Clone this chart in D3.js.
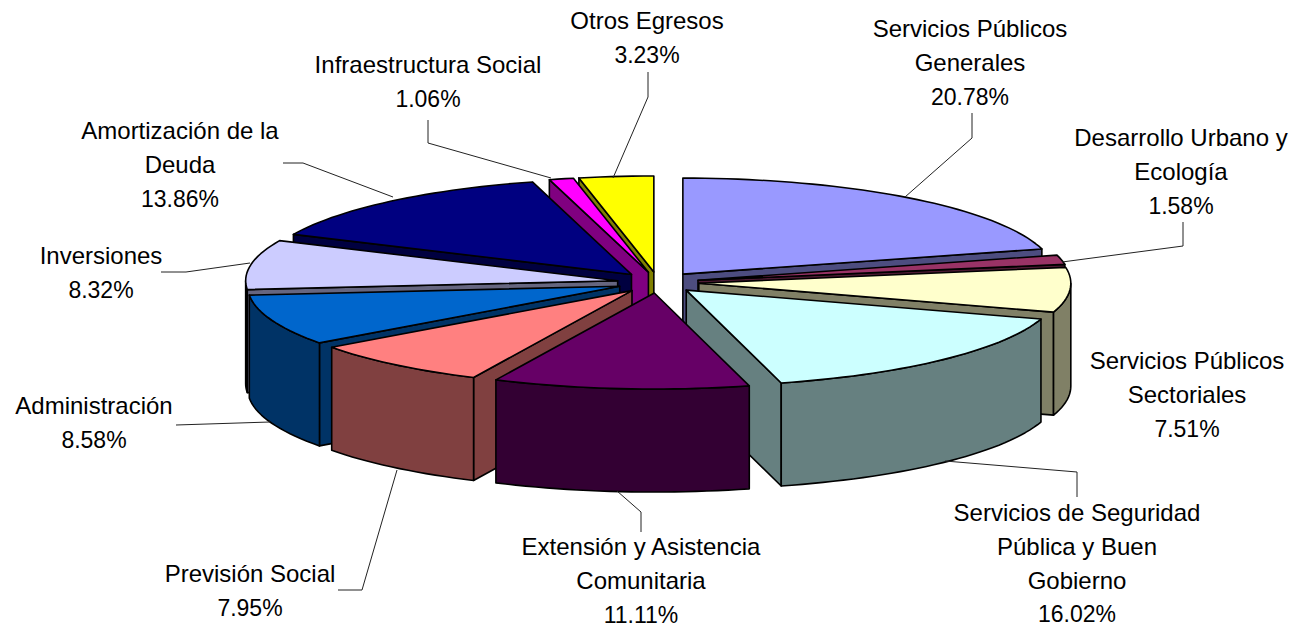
<!DOCTYPE html>
<html>
<head>
<meta charset="utf-8">
<script src="https://cdnjs.cloudflare.com/ajax/libs/d3/7.8.5/d3.min.js"></script>
<style>
body { margin: 0; background: #fff; }
text { font-family: "Liberation Sans", Arial, sans-serif; font-size: 24px; fill: #000; }
tspan.pct { font-size: 23px; }
</style>
</head>
<body>
<div id="chart"></div>
<script>
// data, clockwise from 12 o'clock
var categories = [
    ["Servicios Públicos", "Generales"],
    ["Desarrollo Urbano y", "Ecología"],
    ["Servicios Públicos", "Sectoriales"],
    ["Servicios de Seguridad", "Pública y Buen", "Gobierno"],
    ["Extensión y Asistencia", "Comunitaria"],
    ["Previsión Social"],
    ["Administración"],
    ["Inversiones"],
    ["Amortización de la", "Deuda"],
    ["Infraestructura Social"],
    ["Otros Egresos"]
];
var values = [20.78, 1.58, 7.51, 16.02, 11.11, 7.95, 8.58, 8.32, 13.86, 1.06, 3.23];
var colors = ["#9999ff", "#993366", "#ffffcc", "#ccffff", "#660066", "#ff8080",
              "#0066cc", "#ccccff", "#000080", "#ff00ff", "#ffff00"];

var width = 1298, height = 628;

// the flattened pie
var cx = 658, cy = 282.5,
    rx = 372, ry = 96,
    depth = 103,
    explode = 0.11;

// label anchor (centre x, first line y) and leader line, same order as categories
var labelPos = [
    [970, 37], [1181, 146], [1187, 369], [1077, 521], [641, 555], [250, 582],
    [94, 414], [101, 264], [180, 139], [428, 73], [647, 29]
];
var leaders = [
    [[972, 113], [972, 138], [905, 197]],
    [[1183, 222], [1183, 246], [1062, 262]],
    [],
    [[1077, 497], [1077, 472], [945, 461]],
    [[641, 532], [641, 512], [617, 491]],
    [[338, 590], [362, 590], [397, 470]],
    [[176, 425], [270, 422]],
    [[161, 272], [186, 272], [250, 263]],
    [[283, 163], [303, 163], [393, 197]],
    [[428, 120], [428, 143], [551, 178]],
    [[648, 72], [648, 97], [613, 178]]
];

var svg = d3.select("#chart")
    .append("svg")
    .attr("width", width)
    .attr("height", height);

var slices = d3.pie().sort(null).value(function(d) { return d; })(values);

slices.forEach(function(s) {
    var mid = (s.startAngle + s.endAngle) / 2;
    s.ax = cx + explode * rx * Math.sin(mid);
    s.ay = cy - explode * ry * Math.cos(mid);
    s.top = colors[s.index];
    var c = d3.rgb(s.top);
    s.side = d3.rgb(c.r / 2, c.g / 2, c.b / 2).formatHex();
});

// painter's order: back to front on each side, the front slice last
var order = [10, 9, 8, 7, 6, 0, 1, 2, 3, 5, 4];

var line = d3.line();

function rimPoint(s, a, drop) {
    return [s.ax + rx * Math.sin(a), s.ay - ry * Math.cos(a) + drop];
}

function arcPoints(s, a0, a1, drop) {
    var n = Math.max(2, Math.ceil((a1 - a0) / 0.03));
    return d3.range(n + 1).map(function(i) {
        return rimPoint(s, a0 + (a1 - a0) * i / n, drop);
    });
}

function drawFace(g, pts, fill) {
    g.append("path")
        .attr("d", line(pts) + "Z")
        .attr("fill", fill)
        .attr("stroke", "#000")
        .attr("stroke-width", 1.6)
        .attr("stroke-linejoin", "round");
}

function wall(s, a) {
    var p = rimPoint(s, a, 0), q = rimPoint(s, a, depth);
    return [[s.ax, s.ay], p, q, [s.ax, s.ay + depth]];
}

order.forEach(function(i) {
    var s = slices[i];
    var g = svg.append("g").attr("class", "slice");
    var a0 = s.startAngle, a1 = s.endAngle;

    // radial walls that face the viewer
    if (Math.sin(a0) < 0) drawFace(g, wall(s, a0), s.side);
    if (Math.sin(a1) > 0) drawFace(g, wall(s, a1), s.side);

    // outer rim, front half only
    var r0 = Math.max(a0, Math.PI / 2), r1 = Math.min(a1, 3 * Math.PI / 2);
    if (r1 > r0) {
        var up = arcPoints(s, r0, r1, 0);
        var down = arcPoints(s, r0, r1, depth).reverse();
        drawFace(g, up.concat(down), s.side);
    }

    // top
    drawFace(g, [[s.ax, s.ay]].concat(arcPoints(s, a0, a1, 0)), s.top);
});

// the Sectoriales label has no leader in the original
svg.selectAll(".leader")
    .data(leaders.filter(function(d) { return d.length; }))
    .enter().append("path")
    .attr("class", "leader")
    .attr("d", line)
    .attr("fill", "none")
    .attr("stroke", "#222")
    .attr("stroke-width", 1);

var labels = svg.selectAll(".label")
    .data(categories)
    .enter().append("text")
    .attr("class", "label")
    .attr("text-anchor", "middle")
    .attr("x", function(d, i) { return labelPos[i][0]; })
    .attr("y", function(d, i) { return labelPos[i][1]; });

labels.each(function(d, i) {
    var t = d3.select(this);
    d.forEach(function(str, k) {
        t.append("tspan")
            .attr("x", labelPos[i][0])
            .attr("dy", k ? 33.8 : 0)
            .text(str);
    });
    t.append("tspan")
        .attr("class", "pct")
        .attr("x", labelPos[i][0])
        .attr("dy", 33.8)
        .text(d3.format(".2f")(values[i]) + "%");
});
</script>
</body>
</html>
